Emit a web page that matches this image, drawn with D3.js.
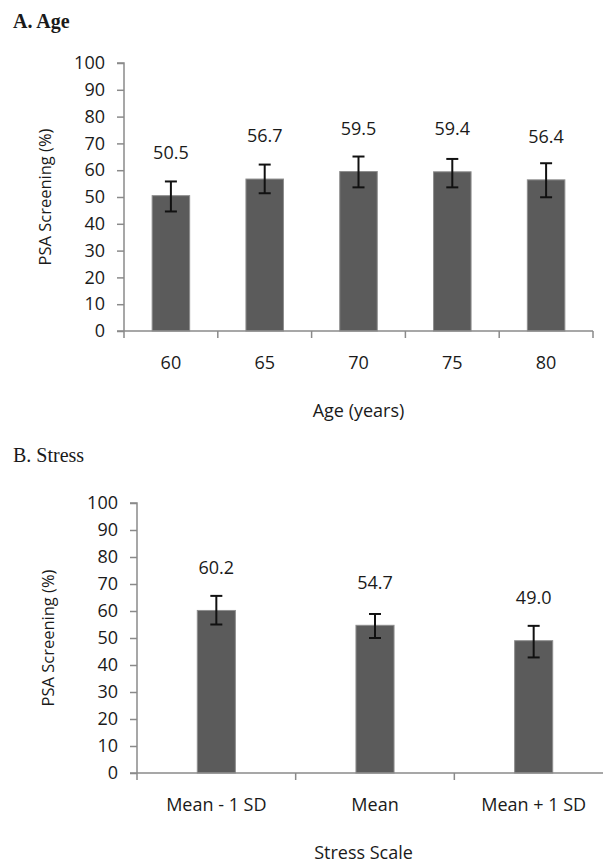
<!DOCTYPE html>
<html>
<head>
<meta charset="utf-8">
<script src="https://cdn.jsdelivr.net/npm/d3@7"></script>
<style>
  body { margin: 0; background: #fff; }
  svg text { font-family: "Open Sans", sans-serif; fill: #1a1a1a; }
  .title { font-family: "Liberation Serif", serif; }
</style>
</head>
<body>
<script>
// panel A - age
let ageCats = ["60", "65", "70", "75", "80"];
let ageVals = [50.5, 56.7, 59.5, 59.4, 56.4];
let ageLo = [44.6, 51.4, 53.6, 53.6, 49.9];
let ageHi = [55.8, 62.1, 65.1, 64.2, 62.6];

// panel B - stress
let stressCats = ["Mean - 1 SD", "Mean", "Mean + 1 SD"];
let stressVals = [60.2, 54.7, 49.0];
let stressLo = [55.0, 50.0, 42.8];
let stressHi = [65.6, 58.9, 54.5];

let yTicks = [0, 10, 20, 30, 40, 50, 60, 70, 80, 90, 100];

let svg = d3.select("body")
  .append("svg")
  .attr("width", 603)
  .attr("height", 865)

function drawPanel(opt) {
  let x = d3.scaleBand().domain(opt.cats).range([opt.left, opt.right]).paddingInner(0).paddingOuter(0)
  let y = d3.scaleLinear().domain([0, 100]).range([opt.bottom, opt.top])
  let g = svg.append("g")

  g.append("text")
    .attr("class", "title")
    .attr("x", 13)
    .attr("y", opt.titleY)
    .style("font-size", "20px")
    .style("font-weight", opt.bold ? "bold" : "normal")
    .text(opt.title)

  // bars
  let barW = x.bandwidth() * opt.barFrac
  g.selectAll("rect.bar")
    .data(opt.vals)
    .join("rect")
    .attr("class", "bar")
    .attr("x", (d, i) => x(opt.cats[i]) + (x.bandwidth() - barW) / 2)
    .attr("y", d => y(d))
    .attr("width", barW)
    .attr("height", d => y(0) - y(d))
    .attr("fill", "#5b5b5b")
    .attr("stroke", "#8e8e8e")
    .attr("stroke-width", 1)

  // error bars
  let cx = i => x(opt.cats[i]) + x.bandwidth() / 2
  let eb = g.selectAll("g.err").data(opt.vals).join("g").attr("class", "err")
    .attr("stroke", "#111").attr("stroke-width", 2)
  eb.append("line")
    .attr("x1", (d, i) => cx(i)).attr("x2", (d, i) => cx(i))
    .attr("y1", (d, i) => y(opt.lo[i])).attr("y2", (d, i) => y(opt.hi[i]))
  eb.append("line")
    .attr("x1", (d, i) => cx(i) - 6).attr("x2", (d, i) => cx(i) + 6)
    .attr("y1", (d, i) => y(opt.lo[i])).attr("y2", (d, i) => y(opt.lo[i]))
  eb.append("line")
    .attr("x1", (d, i) => cx(i) - 6).attr("x2", (d, i) => cx(i) + 6)
    .attr("y1", (d, i) => y(opt.hi[i])).attr("y2", (d, i) => y(opt.hi[i]))

  // value labels
  g.selectAll("text.val")
    .data(opt.vals)
    .join("text")
    .attr("class", "val")
    .attr("x", (d, i) => cx(i))
    .attr("y", d => y(d) - 43)
    .attr("dy", "0.35em")
    .attr("text-anchor", "middle")
    .style("font-size", "18px")
    .text(d => d.toFixed(1))

  // y axis
  let yAxis = g.append("g")
    .attr("transform", `translate(${opt.left},0)`)
    .call(d3.axisLeft(y).tickValues(yTicks).tickSize(7).tickPadding(12))
  yAxis.selectAll("path, line").attr("stroke", "#8a8a8a").attr("stroke-width", 1.5)
  yAxis.select("path").attr("d", `M-7,${y(100)}H0V${y(0)}`)
  yAxis.selectAll("text").style("font-size", "18px").style("font-family", "Open Sans").attr("fill", "#1a1a1a")

  // x axis
  let xAxis = g.append("g")
    .attr("transform", `translate(0,${opt.bottom})`)
    .call(d3.axisBottom(x).tickSize(0).tickPadding(25))
  xAxis.select("path").attr("stroke", "#8a8a8a").attr("stroke-width", 1.5)
    .attr("d", `M${opt.left - 7},0H${opt.right}`)
  xAxis.selectAll("text").style("font-size", "18px").style("font-family", "Open Sans").attr("fill", "#1a1a1a")
  xAxis.selectAll("line.sep")
    .data(d3.range(opt.cats.length + 1))
    .join("line")
    .attr("class", "sep")
    .attr("x1", i => opt.left + i * x.bandwidth())
    .attr("x2", i => opt.left + i * x.bandwidth())
    .attr("y1", 0).attr("y2", 7)
    .attr("stroke", "#8a8a8a").attr("stroke-width", 1.5)

  // axis titles
  g.append("text")
    .attr("x", (opt.left + opt.xTitleRight) / 2)
    .attr("y", opt.bottom + 80)
    .attr("dy", "0.35em")
    .attr("text-anchor", "middle")
    .style("font-size", "18px")
    .text(opt.xTitle)

  g.append("text")
    .attr("transform", `translate(${opt.yTitleX},${(opt.top + opt.bottom) / 2}) rotate(-90)`)
    .attr("dy", "0.35em")
    .attr("text-anchor", "middle")
    .style("font-size", "16.5px")
    .text("PSA Screening (%)")
}

drawPanel({
  title: "A. Age", titleY: 28, bold: true,
  cats: ageCats, vals: ageVals, lo: ageLo, hi: ageHi,
  left: 124, right: 593, top: 63, bottom: 331, barFrac: 0.4,
  xTitle: "Age (years)", xTitleRight: 593, yTitleX: 45
})

drawPanel({
  title: "B. Stress", titleY: 462, bold: false,
  cats: stressCats, vals: stressVals, lo: stressLo, hi: stressHi,
  left: 137, right: 613, top: 503, bottom: 773, barFrac: 0.24,
  xTitle: "Stress Scale", xTitleRight: 590, yTitleX: 48
})
</script>
</body>
</html>
